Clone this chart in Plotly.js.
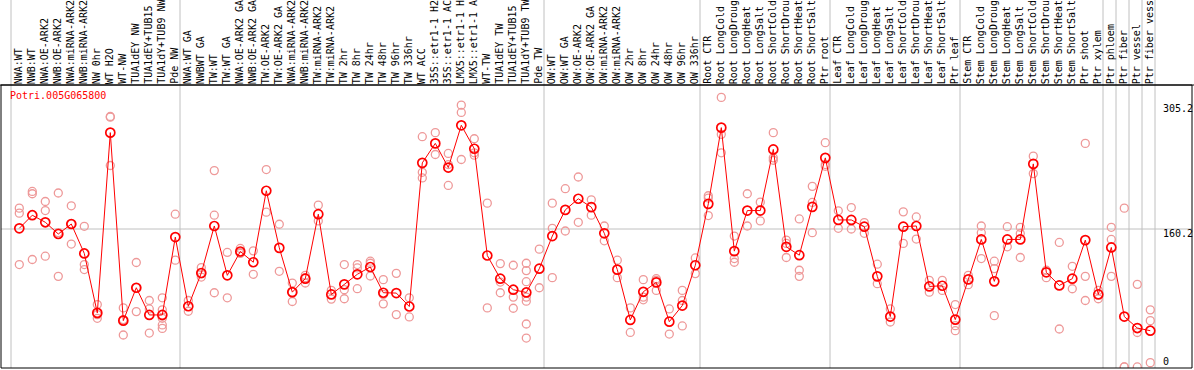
<!DOCTYPE html>
<html>
<head>
<meta charset="utf-8">
<script src="https://cdn.plot.ly/plotly-3.0.1.min.js"></script>
<style>html,body{margin:0;padding:0;background:#fff;}#chart{width:1194px;height:370px;}</style>
</head>
<body>
<div id="chart"></div>
<script>
var geneName = "Potri.005G065800";

var categories = [
"NWA:WT","NWB:WT","NWA:OE-ARK2","NWB:OE-ARK2","NWA:miRNA-ARK2","NWB:miRNA-ARK2","NW 0hr","WT H2O","WT-NW","TUA1dEY NW","TUA1dEY+TUB15 NW","TUA1dY+TUB9 NW","Pde NW",
"NWA:WT GA","NWBWT GA","TW:WT","TW:WT GA","NWA:OE-ARK2 GA","NWB:OE-ARK2 GA","TW:OE-ARK2","TW:OE-ARK2 GA","NWA:miRNA-ARK2 GA","NWB:miRNA-ARK2 GA","TW:miRNA-ARK2","TW:miRNA-ARK2 GA","TW 2hr","TW 8hr","TW 24hr","TW 48hr","TW 96hr","TW 336hr","WT ACC","35S::etr1-1 H2O","35S::etr1-1 ACC","LMX5::etr1-1 H2O","LMX5::etr1-1 ACC","WT-TW","TUA1dEY TW","TUA1dEY+TUB15 TW","TUA1dY+TUB9 TW","Pde TW",
"OW:WT","OW:WT GA","OW:OE-ARK2","OW:OE-ARK2 GA","OW:miRNA-ARK2","OW:miRNA-ARK2 GA","OW 2hr","OW 8hr","OW 24hr","OW 48hr","OW 96hr","OW 336hr",
"Root CTR","Root LongCold","Root LongDrought","Root LongHeat","Root LongSalt","Root ShortCold","Root ShortDrought","Root ShortHeat","Root ShortSalt","Ptr root",
"Leaf CTR","Leaf LongCold","Leaf LongDrought","Leaf LongHeat","Leaf LongSalt","Leaf ShortCold","Leaf ShortDrought","Leaf ShortHeat","Leaf ShortSalt","Ptr leaf",
"Stem CTR","Stem LongCold","Stem LongDrought","Stem LongHeat","Stem LongSalt","Stem ShortCold","Stem ShortDrought","Stem ShortHeat","Stem ShortSalt","Ptr shoot","Ptr xylem",
"Ptr phloem","Ptr fiber","Ptr vessel","Ptr fiber vessel"
];

// group boundaries (category index where a new group starts)
var groupStarts = [0, 13, 41, 53, 63, 73, 84, 85, 86, 87, 88];

var means = [
161,176.2,168,154.4,166,131.8,62.8,272.1,53.8,92,60.4,60.4,150.8,
70.5,109.1,163.7,106.4,134.1,121.6,204.6,138.3,86.9,102.5,177.4,84.2,95.9,107.6,116.1,86.2,85.8,70.2,237,259.6,231.5,280.6,253.4,129.4,102.5,89.7,86.5,114.1,
152,182.4,195.3,185.6,155.2,113,54.6,87.3,98.2,52.6,71.3,118.1,
189.4,277.9,134.5,181.6,181.6,252.6,139.5,129.8,185.9,242.8,
170.7,170.7,162.9,105.2,58.5,162.9,163.7,93.5,94.3,55,
101.7,148.1,99.4,148.1,148.1,235.8,109.9,94.7,102.5,147.3,84.2,
138.8,58.5,45.2,42.1
];

var replicates = [
[184.4,178.6,118.9],[203.8,201.1,124.8],[192.1,181.6,128.6],[202,156,105.2],[187.1,166,142.7],[163.3,118.9,113.1],[72.5,60.8,56.5],[290.8,290,233.9],[68.6,55,37.1],[121.3,92,64.3],[77.2,67.4,39.4],[80.3,66.3,56.5,48.8,44.8],[177.4,124],
[77.2,64.7],[115.4,108,104.4],[228,176.2,86.2],[133,80.3],[137.6,133,131.8],[134.8,107.6],[229.2,179.7],[165.7,111.1],[97.4,86.9,76],[106.4,103.7,97.5],[187.9,169.6],[88.9,78.8],[118.9,89.7,79.2],[118.9,115,90.9],[122.8,120.4,105.6],[101.4,84.2,73.3],[108.7,60.8],[80.3,58.1],[267.4,226,219.5],[272.1,246.7],[247.9,235,210.8],[304,295.5,240.9],[265,248.7,245.9],[190.2,68.6],[120,98.6,86.2],[118.1,81.1,68.2],[120.4,111.9,99,81.1,76.4,49.9,33.6],[136.8,92],
[190.2,161,103.7],[207,157.9],[220.6,168],[194.1,176.2],[163.7,146.5],[124,103.7],[68.6,40.1],[101.4,81.1,78],[102.5,100.6,88.9],[67.4,38.2],[88.9,77.2,47.6],[126.6,108.4],
[198.8,196.1,175.8],[313,270.1,248.7],[152,125.9,121.6],[201.1,163.7],[191.4,169.6],[272.1,242.8,240],[147.3,143.5,127.1],[171.9,112.3,105.2],[209.7,191,155.9],[260.4,235,233],
[181.3,161],[185.1,160.2],[167.6,155.2],[119.3,96.7],[67.4,52.2],[180.1,143.5],[174.2,148.5],[100.6,86.9],[100.6,88.9],[72.5,47.9,42.1],
[106.4,95.5],[163.7,155.9,125.9],[122.8,114.2,59.6],[162.9,139.5],[162.2,155,127.1],[244.8,224.5],[112.3,103.7],[144.6,44.1],[116.9,90.8],[259.6,105.2,77.2],[88.9,79.2],
[162.2,148.1,105.2],[184.4,0,0],[95.9,40,0],[66.3,53.8,5]
];

var yTickVals = [0, 160.2, 305.2];
var yTickText = ["0", "160.2", "305.2"];
var gridValue = 160.2;

// ---- build figure ----
var W = 1194, H = 370;
var mL = 1, mR = 2, mT = 85, mB = 2;
var plotW = W - mL - mR, plotH = H - mT - mB;
var firstPx = 19.3, step = 13;          // pixel position of category 0 and spacing
var xMin = (mL - firstPx) / step;
var xMax = (mL + plotW - firstPx) / step;
var yRange = [-1.2, 327.4];
function xToPaper(v) { return (v - xMin) / (xMax - xMin); }

var idx = categories.map(function(_, i) { return i; });
var repX = [], repY = [];
replicates.forEach(function(arr, i) { arr.forEach(function(v) { repX.push(i); repY.push(v); }); });

var traces = [
  { x: repX, y: repY, type: 'scatter', mode: 'markers', hoverinfo: 'skip',
    marker: { symbol: 'circle-open', size: 8, color: '#ee9999', line: { width: 1.3, color: '#ee9999' } } },
  { x: idx, y: means, type: 'scatter', mode: 'lines+markers', hoverinfo: 'skip',
    line: { color: '#ff0000', width: 1 },
    marker: { symbol: 'circle-open', size: 9, color: '#ff0000', line: { width: 1.7, color: '#ff0000' } } }
];

var shapes = [];
var topY = 1 + mT / plotH;
// group divider lines, boundary between categories
groupStarts.forEach(function(k) {
  var boundaryPx = firstPx + step * k - (firstPx - 11 - (step*0)) ; // boundary left of category k
  var dataX = k - (firstPx - 11) / step;
  shapes.push({ type: 'line', xref: 'paper', yref: 'paper', x0: xToPaper(dataX), x1: xToPaper(dataX), y0: 0, y1: topY,
    line: { color: '#c0c0c0', width: 1 }, layer: 'below' });
});
// horizontal grid line
shapes.push({ type: 'line', xref: 'paper', yref: 'y', x0: 0, x1: 1, y0: gridValue, y1: gridValue,
  line: { color: '#c0c0c0', width: 1 }, layer: 'below' });
// frame
shapes.push({ type: 'rect', xref: 'paper', yref: 'paper', x0: 0, x1: 1, y0: 0, y1: 1, line: { color: '#000', width: 1 } });
shapes.push({ type: 'line', xref: 'paper', yref: 'paper', x0: -mL / plotW, x1: (W - mL) / plotW, y0: 1, y1: 1, line: { color: '#000', width: 1 } });

var font = { family: 'DejaVu Sans Mono, monospace', size: 10, color: '#000' };
var annotations = [];
categories.forEach(function(c, i) {
  annotations.push({ text: c, x: i, xref: 'x', y: 1, yref: 'paper', xanchor: 'center', yanchor: 'bottom',
    textangle: -90, showarrow: false, font: font, xshift: -1, yshift: 0, borderpad: 0 });
});
annotations.push({ text: geneName, xref: 'paper', yref: 'paper', x: (9 - mL) / plotW, y: 1, xanchor: 'left', yanchor: 'top',
  yshift: -4, showarrow: false, borderpad: 0, font: { family: font.family, size: 10, color: '#ff0000' } });
yTickVals.forEach(function(v, i) {
  annotations.push({ text: yTickText[i], xref: 'paper', yref: 'y', x: (1162 - mL) / plotW, y: v,
    xanchor: 'left', yanchor: v === 0 ? 'bottom' : 'top', yshift: v === 0 ? -1 : 2, showarrow: false, borderpad: 0, font: font });
});

var layout = {
  width: W, height: H,
  margin: { l: mL, r: mR, t: mT, b: mB, pad: 0 },
  paper_bgcolor: '#fff', plot_bgcolor: '#fff',
  showlegend: false,
  xaxis: { range: [xMin, xMax], showgrid: false, zeroline: false, showticklabels: false, ticks: '', showline: false, fixedrange: true },
  yaxis: { range: yRange, showgrid: false, zeroline: false, showticklabels: false, ticks: '', showline: false, fixedrange: true,
           tickvals: yTickVals },
  shapes: shapes,
  annotations: annotations
};

Plotly.newPlot('chart', traces, layout, { staticPlot: true, displayModeBar: false });
</script>
</body>
</html>
